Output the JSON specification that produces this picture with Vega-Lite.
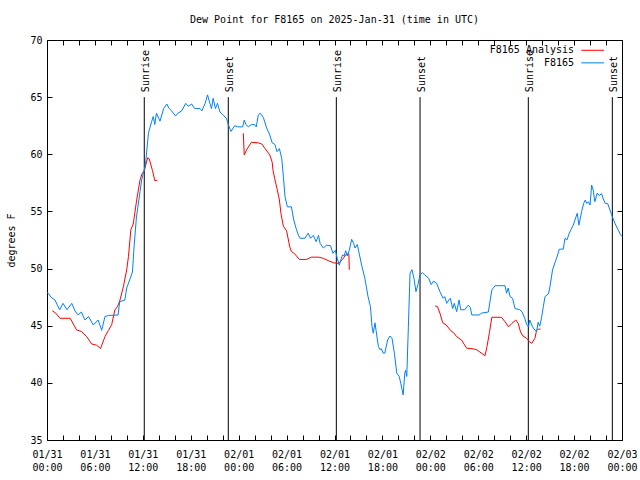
{
  "$schema": "https://vega.github.io/schema/vega-lite/v6.json",
  "width": 575,
  "height": 400,
  "autosize": {"type": "none"},
  "padding": {"left": 47, "top": 40, "right": 18, "bottom": 40},
  "background": "white",
  "title": {"text": "Dew Point for F8165 on 2025-Jan-31 (time in UTC)", "font": "DejaVu Sans Mono", "fontSize": 10, "fontWeight": "normal", "color": "black", "offset": 10, "anchor": "middle"},
  "config": {
    "view": {"stroke": "black", "strokeWidth": 1},
    "axis": {"labelFont": "DejaVu Sans Mono", "labelFontSize": 10, "labelColor": "black", "titleFont": "DejaVu Sans Mono", "titleFontSize": 10, "titleFontWeight": "normal", "titleColor": "black", "tickColor": "black", "domain": false, "grid": false}
  },
  "datasets": {
    "sun": [
      {"h": 12.18, "label": "Sunrise"},
      {"h": 22.7, "label": "Sunset"},
      {"h": 36.23, "label": "Sunrise"},
      {"h": 46.71, "label": "Sunset"},
      {"h": 60.27, "label": "Sunrise"},
      {"h": 70.79, "label": "Sunset"}
    ],
    "legend": [
      {"series": "F8165 Analysis", "row": 69.1},
      {"series": "F8165", "row": 68.0}
    ],
    "blue": [
      {"h":0.0,"v":47.9},{"h":0.16,"v":47.84},{"h":0.5,"v":47.5},{"h":1.0,"v":47.25},{"h":1.3,"v":46.8},{"h":1.6,"v":46.4},{"h":2.0,"v":46.96},{"h":2.5,"v":46.4},{"h":3.1,"v":46.96},{"h":3.5,"v":46.3},{"h":3.9,"v":45.94},{"h":4.3,"v":46.2},{"h":4.75,"v":45.5},{"h":5.2,"v":45.8},{"h":5.8,"v":45.06},{"h":6.4,"v":45.5},{"h":6.85,"v":44.6},{"h":7.26,"v":45.8},{"h":7.7,"v":45.9},{"h":8.9,"v":45.94},{"h":9.1,"v":47.1},{"h":9.75,"v":47.25},{"h":9.98,"v":48.3},{"h":10.4,"v":49.1},{"h":10.7,"v":49.7},{"h":10.9,"v":51.9},{"h":11.2,"v":54.5},{"h":11.65,"v":56.73},{"h":11.85,"v":57.75},{"h":12.27,"v":58.9},{"h":12.36,"v":59.35},{"h":12.7,"v":61.84},{"h":13.1,"v":62.85},{"h":13.3,"v":63.3},{"h":13.5,"v":62.6},{"h":13.7,"v":63.6},{"h":14.15,"v":62.9},{"h":14.6,"v":64.0},{"h":15.0,"v":64.4},{"h":15.3,"v":64.0},{"h":15.6,"v":63.8},{"h":16.1,"v":63.35},{"h":16.4,"v":63.6},{"h":16.87,"v":63.8},{"h":17.37,"v":64.46},{"h":17.7,"v":64.2},{"h":18.1,"v":64.4},{"h":18.5,"v":64.0},{"h":19.16,"v":64.0},{"h":19.4,"v":63.8},{"h":19.8,"v":64.46},{"h":20.1,"v":65.2},{"h":20.4,"v":64.46},{"h":20.6,"v":64.0},{"h":20.8,"v":64.9},{"h":21.1,"v":64.0},{"h":21.35,"v":64.46},{"h":21.66,"v":63.7},{"h":22.1,"v":63.4},{"h":22.5,"v":63.1},{"h":22.7,"v":62.6},{"h":23.04,"v":62.0},{"h":23.5,"v":62.5},{"h":23.9,"v":62.4},{"h":24.5,"v":62.4},{"h":24.7,"v":63.0},{"h":24.9,"v":62.6},{"h":25.2,"v":62.4},{"h":25.6,"v":62.6},{"h":26.0,"v":62.6},{"h":26.2,"v":62.4},{"h":26.46,"v":63.44},{"h":26.7,"v":63.6},{"h":27.1,"v":63.2},{"h":27.5,"v":62.3},{"h":27.9,"v":61.69},{"h":28.2,"v":61.0},{"h":28.55,"v":60.85},{"h":28.8,"v":60.23},{"h":29.1,"v":60.5},{"h":29.4,"v":59.6},{"h":29.6,"v":58.04},{"h":29.8,"v":56.3},{"h":30.1,"v":55.4},{"h":30.6,"v":55.4},{"h":30.9,"v":54.25},{"h":31.2,"v":53.5},{"h":31.47,"v":52.94},{"h":31.7,"v":52.65},{"h":32.3,"v":52.65},{"h":32.7,"v":53.1},{"h":33.0,"v":52.65},{"h":33.35,"v":52.9},{"h":33.7,"v":52.35},{"h":34.0,"v":52.9},{"h":34.2,"v":52.2},{"h":34.6,"v":51.8},{"h":35.0,"v":52.05},{"h":35.5,"v":52.0},{"h":35.8,"v":51.34},{"h":36.1,"v":51.6},{"h":36.35,"v":50.9},{"h":36.6,"v":50.3},{"h":36.8,"v":50.75},{"h":37.0,"v":51.2},{"h":37.2,"v":51.1},{"h":37.4,"v":51.57},{"h":37.6,"v":51.1},{"h":37.85,"v":51.6},{"h":38.15,"v":52.56},{"h":38.4,"v":52.2},{"h":38.57,"v":51.8},{"h":38.85,"v":52.1},{"h":39.07,"v":51.4},{"h":39.4,"v":50.3},{"h":39.8,"v":49.15},{"h":40.2,"v":47.54},{"h":40.5,"v":46.67},{"h":40.7,"v":44.9},{"h":40.85,"v":44.35},{"h":41.07,"v":45.25},{"h":41.2,"v":44.6},{"h":41.5,"v":43.16},{"h":41.7,"v":42.9},{"h":41.85,"v":43.0},{"h":42.1,"v":42.6},{"h":42.3,"v":42.6},{"h":42.65,"v":43.75},{"h":42.95,"v":44.1},{"h":43.2,"v":43.9},{"h":43.5,"v":42.6},{"h":43.8,"v":40.84},{"h":44.1,"v":40.56},{"h":44.3,"v":39.96},{"h":44.6,"v":38.94},{"h":44.8,"v":40.84},{"h":44.9,"v":41.1},{"h":45.05,"v":40.56},{"h":45.25,"v":44.9},{"h":45.46,"v":49.6},{"h":45.7,"v":49.9},{"h":45.95,"v":49.15},{"h":46.2,"v":47.98},{"h":46.45,"v":48.6},{"h":46.7,"v":49.44},{"h":47.0,"v":49.65},{"h":47.3,"v":49.44},{"h":47.8,"v":49.15},{"h":48.1,"v":48.6},{"h":48.4,"v":48.9},{"h":48.8,"v":48.7},{"h":49.2,"v":47.98},{"h":49.6,"v":47.4},{"h":49.8,"v":47.55},{"h":50.05,"v":46.96},{"h":50.3,"v":47.25},{"h":50.5,"v":47.4},{"h":50.8,"v":46.5},{"h":51.0,"v":46.96},{"h":51.3,"v":46.23},{"h":51.6,"v":47.25},{"h":51.8,"v":46.4},{"h":52.3,"v":46.4},{"h":52.75,"v":46.8},{"h":53.0,"v":46.6},{"h":53.2,"v":45.94},{"h":54.1,"v":45.94},{"h":54.4,"v":46.1},{"h":55.26,"v":46.2},{"h":55.5,"v":47.25},{"h":55.7,"v":48.13},{"h":56.1,"v":48.5},{"h":57.35,"v":48.5},{"h":57.55,"v":47.84},{"h":57.75,"v":48.3},{"h":57.98,"v":47.55},{"h":58.3,"v":47.4},{"h":58.6,"v":46.5},{"h":59.2,"v":46.4},{"h":59.5,"v":46.2},{"h":59.85,"v":45.6},{"h":60.05,"v":45.1},{"h":60.3,"v":44.9},{"h":60.45,"v":45.5},{"h":60.8,"v":44.9},{"h":61.0,"v":44.7},{"h":61.3,"v":44.48},{"h":61.5,"v":45.3},{"h":61.7,"v":44.96},{"h":61.9,"v":45.6},{"h":62.15,"v":46.67},{"h":62.36,"v":47.54},{"h":62.8,"v":47.8},{"h":63.0,"v":48.5},{"h":63.3,"v":49.88},{"h":63.6,"v":50.5},{"h":63.9,"v":51.1},{"h":64.15,"v":51.7},{"h":64.65,"v":51.7},{"h":64.86,"v":52.65},{"h":65.1,"v":52.5},{"h":65.4,"v":53.1},{"h":65.6,"v":53.4},{"h":65.9,"v":53.8},{"h":66.1,"v":54.25},{"h":66.4,"v":54.84},{"h":66.6,"v":53.8},{"h":66.95,"v":55.0},{"h":67.2,"v":55.7},{"h":67.4,"v":56.0},{"h":67.6,"v":55.7},{"h":67.8,"v":55.85},{"h":68.0,"v":55.56},{"h":68.2,"v":57.3},{"h":68.4,"v":56.85},{"h":68.6,"v":55.85},{"h":68.9,"v":56.6},{"h":69.15,"v":56.4},{"h":69.45,"v":56.55},{"h":69.65,"v":56.1},{"h":69.9,"v":55.7},{"h":70.2,"v":55.7},{"h":70.4,"v":55.3},{"h":70.7,"v":54.7},{"h":71.1,"v":53.98},{"h":71.5,"v":53.4},{"h":71.8,"v":53.0},{"h":72.0,"v":52.8}
    ],
    "red": [
      {"seg":1,"h":0.67,"v":46.3},{"seg":1,"h":1.1,"v":46.1},{"seg":1,"h":1.63,"v":45.65},{"seg":1,"h":2.9,"v":45.65},{"seg":1,"h":3.7,"v":44.63},{"seg":1,"h":4.3,"v":44.5},{"seg":1,"h":4.97,"v":44.04},{"seg":1,"h":5.6,"v":43.4},{"seg":1,"h":6.2,"v":43.3},{"seg":1,"h":6.7,"v":43.0},{"seg":1,"h":7.26,"v":44.04},{"seg":1,"h":7.7,"v":44.6},{"seg":1,"h":8.1,"v":45.1},{"seg":1,"h":8.5,"v":46.38},{"seg":1,"h":8.85,"v":46.7},{"seg":1,"h":9.14,"v":47.25},{"seg":1,"h":9.56,"v":48.4},{"seg":1,"h":9.98,"v":49.9},{"seg":1,"h":10.2,"v":51.05},{"seg":1,"h":10.5,"v":53.4},{"seg":1,"h":10.8,"v":53.9},{"seg":1,"h":11.23,"v":56.0},{"seg":1,"h":11.65,"v":57.75},{"seg":1,"h":11.9,"v":58.3},{"seg":1,"h":12.2,"v":58.6},{"seg":1,"h":12.6,"v":59.7},{"seg":1,"h":12.8,"v":59.6},{"seg":1,"h":13.2,"v":58.6},{"seg":1,"h":13.5,"v":57.7},{"seg":1,"h":13.8,"v":57.7},
      {"seg":2,"h":24.58,"v":61.84},{"seg":2,"h":24.7,"v":59.94},{"seg":2,"h":25.0,"v":60.4},{"seg":2,"h":25.6,"v":61.05},{"seg":2,"h":26.46,"v":61.0},{"seg":2,"h":26.9,"v":60.9},{"seg":2,"h":27.3,"v":60.5},{"seg":2,"h":27.9,"v":59.94},{"seg":2,"h":28.2,"v":59.3},{"seg":2,"h":28.3,"v":58.6},{"seg":2,"h":28.5,"v":57.9},{"seg":2,"h":28.8,"v":57.0},{"seg":2,"h":29.1,"v":56.0},{"seg":2,"h":29.3,"v":54.8},{"seg":2,"h":29.6,"v":53.7},{"seg":2,"h":30.0,"v":53.3},{"seg":2,"h":30.4,"v":51.9},{"seg":2,"h":30.6,"v":51.5},{"seg":2,"h":31.0,"v":51.3},{"seg":2,"h":31.6,"v":50.8},{"seg":2,"h":32.5,"v":50.8},{"seg":2,"h":33.1,"v":51.0},{"seg":2,"h":34.0,"v":51.0},{"seg":2,"h":34.6,"v":50.9},{"seg":2,"h":35.2,"v":50.7},{"seg":2,"h":35.9,"v":50.5},{"seg":2,"h":36.5,"v":50.45},{"seg":2,"h":37.0,"v":50.8},{"seg":2,"h":37.4,"v":51.2},{"seg":2,"h":37.8,"v":51.3},{"seg":2,"h":37.85,"v":49.9},
      {"seg":3,"h":48.6,"v":46.73},{"seg":3,"h":48.9,"v":46.67},{"seg":3,"h":49.2,"v":46.1},{"seg":3,"h":49.55,"v":45.27},{"seg":3,"h":50.0,"v":45.06},{"seg":3,"h":50.55,"v":44.57},{"seg":3,"h":50.9,"v":44.4},{"seg":3,"h":51.3,"v":44.04},{"seg":3,"h":51.9,"v":43.75},{"seg":3,"h":52.55,"v":43.03},{"seg":3,"h":53.2,"v":43.0},{"seg":3,"h":53.8,"v":42.9},{"seg":3,"h":54.4,"v":42.6},{"seg":3,"h":54.85,"v":42.38},{"seg":3,"h":55.1,"v":43.2},{"seg":3,"h":55.4,"v":44.4},{"seg":3,"h":55.7,"v":45.74},{"seg":3,"h":56.9,"v":45.74},{"seg":3,"h":57.35,"v":45.35},{"seg":3,"h":57.8,"v":44.9},{"seg":3,"h":58.2,"v":45.2},{"seg":3,"h":58.7,"v":45.5},{"seg":3,"h":59.0,"v":45.2},{"seg":3,"h":59.3,"v":44.45},{"seg":3,"h":59.6,"v":44.1},{"seg":3,"h":60.07,"v":43.9},{"seg":3,"h":60.4,"v":43.6},{"seg":3,"h":60.7,"v":43.46},{"seg":3,"h":61.1,"v":43.9},{"seg":3,"h":61.3,"v":44.6},{"seg":3,"h":61.5,"v":44.7},{"seg":3,"h":61.8,"v":44.7}
    ]
  },
  "layer": [
    {
      "data": {"name": "sun"},
      "mark": {"type": "rule", "color": "black", "strokeWidth": 1},
      "encoding": {
        "x": {"field": "h", "type": "quantitative", "scale": {"domain": [0, 72], "nice": false, "zero": false}, "axis": null},
        "y": {"datum": 35, "type": "quantitative", "scale": {"domain": [35, 70], "nice": false, "zero": false}, "axis": null},
        "y2": {"datum": 65}
      }
    },
    {
      "data": {"name": "sun"},
      "mark": {"type": "text", "angle": 270, "align": "left", "baseline": "alphabetic", "dx": 5, "dy": 5, "font": "DejaVu Sans Mono", "fontSize": 10, "color": "black"},
      "encoding": {
        "x": {"field": "h", "type": "quantitative", "scale": {"domain": [0, 72], "nice": false, "zero": false}, "axis": null},
        "y": {"datum": 65, "type": "quantitative", "scale": {"domain": [35, 70], "nice": false, "zero": false}, "axis": null},
        "text": {"field": "label"}
      }
    },
    {
      "data": {"name": "red"},
      "mark": {"type": "line", "color": "#ff0000", "strokeWidth": 1},
      "encoding": {
        "x": {"field": "h", "type": "quantitative", "scale": {"domain": [0, 72], "nice": false, "zero": false},
          "axis": {"orient": "top", "values": [0,2,4,6,8,10,12,14,16,18,20,22,24,26,28,30,32,34,36,38,40,42,44,46,48,50,52,54,56,58,60,62,64,66,68,70,72], "labels": false, "tickSize": -5, "title": null}},
        "y": {"field": "v", "type": "quantitative", "scale": {"domain": [35, 70], "nice": false, "zero": false},
          "axis": {"orient": "right", "values": [35,40,45,50,55,60,65,70], "labels": false, "tickSize": -5, "title": null}},
        "detail": {"field": "seg"}
      }
    },
    {
      "data": {"name": "blue"},
      "mark": {"type": "line", "color": "#0080ff", "strokeWidth": 1},
      "encoding": {
        "x": {"field": "h", "type": "quantitative", "scale": {"domain": [0, 72], "nice": false, "zero": false},
          "axis": {"orient": "bottom", "values": [0,2,4,6,8,10,12,14,16,18,20,22,24,26,28,30,32,34,36,38,40,42,44,46,48,50,52,54,56,58,60,62,64,66,68,70,72], "tickSize": -5, "labelPadding": 14, "labelLineHeight": 13, "labelBaseline": "top", "labelOverlap": false, "labelFlush": false, "title": null,
            "labelExpr": "datum.value % 6 == 0 ? [timeFormat(datetime(2025, 0, 31, datum.value), '%m/%d'), timeFormat(datetime(2025, 0, 31, datum.value), '%H:%M')] : ''"}},
        "y": {"field": "v", "type": "quantitative", "scale": {"domain": [35, 70], "nice": false, "zero": false},
          "axis": {"orient": "left", "values": [35,40,45,50,55,60,65,70], "tickSize": -5, "labelPadding": 10, "labelFlush": false, "title": "degrees F", "titlePadding": 13}}
      }
    },
    {
      "data": {"name": "legend"},
      "mark": {"type": "text", "align": "right", "baseline": "middle", "font": "DejaVu Sans Mono", "fontSize": 10, "color": "black"},
      "encoding": {
        "x": {"datum": 66.0, "type": "quantitative", "scale": {"domain": [0, 72], "nice": false, "zero": false}, "axis": null},
        "y": {"field": "row", "type": "quantitative", "scale": {"domain": [35, 70], "nice": false, "zero": false}, "axis": null},
        "text": {"field": "series"}
      }
    },
    {
      "data": {"name": "legend"},
      "mark": {"type": "rule", "strokeWidth": 1},
      "encoding": {
        "x": {"datum": 66.9, "type": "quantitative", "scale": {"domain": [0, 72], "nice": false, "zero": false}, "axis": null},
        "x2": {"datum": 69.75},
        "y": {"field": "row", "type": "quantitative", "scale": {"domain": [35, 70], "nice": false, "zero": false}, "axis": null},
        "color": {"field": "series", "type": "nominal", "scale": {"domain": ["F8165 Analysis", "F8165"], "range": ["#ff0000", "#0080ff"]}, "legend": null}
      }
    }
  ],
  "resolve": {"axis": {"x": "independent", "y": "independent"}}
}
